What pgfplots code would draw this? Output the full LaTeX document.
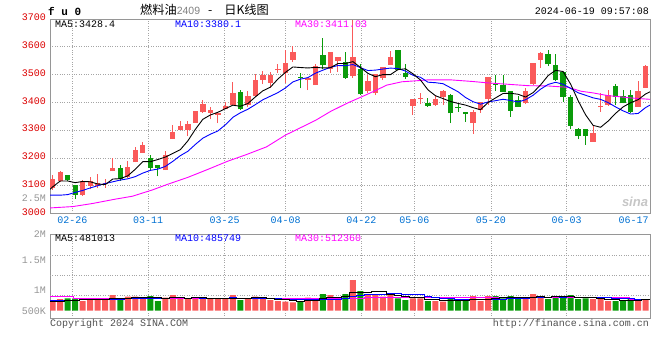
\documentclass[border=0pt]{standalone}
\usepackage{fontspec}
\usepackage{pgfplots}
\usepackage{pgfplotstable}
\pgfplotsset{compat=1.18}
\setmainfont{Liberation Mono}
\newfontfamily\cjk{Noto Sans CJK SC}
\newfontfamily\lsans{Liberation Sans}
\newcommand\mono{\fontsize{10}{12}\selectfont}
\definecolor{cred}{RGB}{250,90,90}
\definecolor{cgreen}{RGB}{10,155,10}
\definecolor{labred}{RGB}{220,0,0}
\definecolor{labblue}{RGB}{0,112,210}
\definecolor{gridgray}{RGB}{165,165,165}
\definecolor{framegray}{RGB}{150,150,150}
\definecolor{labgray}{RGB}{150,150,150}
\definecolor{txtgray}{RGB}{80,80,80}
\definecolor{mablue}{RGB}{0,0,255}
\definecolor{mamag}{RGB}{255,0,255}

% i open high low close volume(K)
\pgfplotstableread{
i o h l c v
0 3093 3137 3085 3123 471
1 3117 3152 3115 3151 515
4 3066 3122 3064 3116 427
5 3100 3131 3087 3117 471
6 3098 3141 3090 3111 541
7 3105 3123 3093 3111 471
8 3152 3198 3152 3165 691
10 3132 3188 3128 3168 616
11 3184 3241 3184 3229 616
12 3218 3256 3218 3248 515
15 3156 3224 3156 3212 572
16 3268 3319 3268 3295 691
17 3301 3333 3301 3315 515
18 3299 3333 3280 3322 515
19 3327 3369 3327 3369 572
20 3366 3408 3363 3394 515
21 3363 3384 3339 3373 515
22 3355 3363 3325 3363 515
23 3376 3402 3376 3387 515
24 3390 3474 3390 3432 691
26 3389 3440 3382 3422 515
27 3422 3503 3420 3482 616
28 3480 3513 3466 3497 515
29 3470 3509 3453 3497 471
30 3515 3539 3506 3521 427
31 3506 3590 3471 3542 396
32 3553 3604 3545 3580 365
34 3480 3489 3444 3489 572
35 3462 3537 3462 3531 515
37 3521 3583 3507 3583 691
38 3549 3563 3509 3563 471
40 3494 3695 3488 3565 1351
42 3440 3500 3432 3476 691
43 3432 3503 3426 3503 691
44 3486 3527 3480 3527 616
45 3536 3584 3536 3565 735
48 3388 3412 3355 3412 541
49 3412 3432 3393 3416 541
51 3390 3426 3388 3412 427
52 3420 3444 3390 3440 396
56 3325 3372 3287 3366 647
57 3373 3402 3363 3402 427
58 3411 3492 3390 3492 647
63 3396 3450 3394 3442 515
64 3465 3541 3462 3541 735
65 3553 3583 3525 3577 647
72 3259 3319 3259 3291 515
73 3382 3432 3366 3386 515
74 3390 3444 3387 3426 427
78 3384 3476 3384 3440 471
79 3453 3533 3453 3530 471
}\redtab

\pgfplotstableread{
i o h l c v
2 3137 3140 3118 3121 541
3 3101 3103 3053 3066 515
9 3162 3176 3117 3123 471
13 3200 3212 3158 3164 647
14 3174 3176 3134 3162 427
25 3438 3444 3372 3375 471
33 3491 3506 3450 3487 427
36 3569 3631 3521 3533 735
39 3545 3583 3485 3489 735
41 3521 3539 3426 3429 867
46 3587 3587 3515 3518 541
47 3506 3539 3485 3491 471
50 3398 3414 3384 3388 427
53 3428 3430 3325 3360 572
54 3384 3396 3366 3381 427
55 3364 3364 3331 3358 427
59 3465 3500 3440 3462 647
60 3462 3500 3438 3438 541
61 3442 3442 3349 3370 647
62 3408 3423 3384 3384 515
66 3575 3589 3530 3537 515
67 3533 3575 3477 3480 647
68 3509 3509 3402 3420 616
69 3418 3426 3303 3315 691
70 3303 3307 3268 3280 515
71 3303 3303 3247 3280 541
75 3458 3465 3390 3420 427
76 3422 3444 3396 3396 427
77 3426 3444 3363 3366 541
}\greentab

\pgfplotstableread{
x y
-0.36 3087
0 3096
1 3117
2 3117
3 3111
4 3115.4
5 3114.2
6 3106.2
7 3104.2
8 3124
9 3125.4
10 3135.6
11 3159.2
12 3186.6
13 3186.4
14 3194.2
15 3203
16 3216.2
17 3229.6
18 3261.2
19 3302.6
20 3339
21 3354.6
22 3364.2
23 3377.2
24 3389.8
25 3386
26 3395.8
27 3419.6
28 3441.6
29 3454.6
30 3483.8
31 3507.8
32 3527.4
33 3525.4
34 3523.8
35 3525.8
36 3524
37 3524.6
38 3539.8
39 3539.8
40 3546.6
41 3525.8
42 3504.4
43 3492.4
44 3500
45 3500
46 3517.8
47 3520.8
48 3502.6
49 3480.4
50 3445
51 3423.8
52 3413.6
53 3403.2
54 3396.2
55 3390.2
56 3381
57 3373.4
58 3399.8
59 3416
60 3432
61 3432.8
62 3429.2
63 3419.2
64 3435
65 3462.8
66 3496.2
67 3515.4
68 3511
69 3465.8
70 3406.4
71 3355
72 3317.2
73 3310.4
74 3332.6
75 3360.6
76 3383.8
77 3398.8
78 3409.6
79 3430.4
79.58 3438
}\mafive

\pgfplotstableread{
x y
-0.36 3066
0 3066
1 3066
2 3068
3 3076
4 3083
5 3092
6 3100
7 3108
8 3114
9 3120.4
10 3124.9
11 3132.7
12 3145.4
13 3155.2
14 3159.8
15 3169.3
16 3187.7
17 3208.1
18 3223.8
19 3248.4
20 3271
21 3285.4
22 3296.9
23 3319.2
24 3346.2
25 3362.5
26 3375.2
27 3391.9
28 3409.4
29 3422.2
30 3434.9
31 3451.8
32 3473.5
33 3483.5
34 3489.2
35 3504.8
36 3515.9
37 3526
38 3532.6
39 3531.8
40 3536.2
41 3524.9
42 3514.5
43 3516.1
44 3519.9
45 3523.3
46 3521.8
47 3512.6
48 3497.5
49 3490.2
50 3472.5
51 3470.8
52 3467.2
53 3452.9
54 3438.3
55 3417.6
56 3402.4
57 3393.5
58 3401.5
59 3406.1
60 3411.1
61 3406.9
62 3401.3
63 3409.5
64 3425.5
65 3447.4
66 3464.5
67 3472.3
68 3465.1
69 3450.4
70 3434.6
71 3425.6
72 3416.3
73 3410.7
74 3399.2
75 3383.5
76 3369.4
77 3358
78 3360
79 3381.5
79.58 3390
}\maten

\pgfplotstableread{
x y
-0.36 3020
2.7 3025
5.3 3036
8.4 3052
10.6 3062
13.3 3085
15.3 3105
18 3130
20.6 3158
23.3 3188
25.9 3213
28.5 3240
31 3282
35 3335
37 3367
39.3 3398
41 3418
42.8 3440
44.5 3462
46.5 3474
48.6 3478
50 3481
53 3481
56 3475
58 3470
60.7 3465
63.4 3460
66 3459
68.7 3454
70.4 3440
72 3434
74 3424
75.3 3421
76.6 3417
77.9 3414
79.58 3411
}\mathirty

\pgfplotstableread{
x y
-0.36 400
0 400
1 420
2 450
3 470
4 494
5 494
6 499
7 485
8 520
9 529
10 558
11 573
12 582
13 573
14 564
15 555
16 570
17 570
18 544
19 573
20 562
21 526
22 526
23 526
24 550
25 541
26 541
27 562
28 562
29 518
30 509
31 485
32 435
33 417
34 437
35 455
36 523
37 588
38 597
39 629
40 797
41 823
42 823
43 867
44 843
45 720
46 655
47 611
48 581
49 566
50 504
51 481
52 466
53 473
54 450
55 450
56 494
57 500
58 515
59 559
60 582
61 582
62 599
63 573
64 591
65 612
66 585
67 612
68 632
69 623
70 597
71 602
72 576
73 555
74 503
75 485
76 462
77 467
78 459
79 481
79.58 481
}\vmafive

\pgfplotstableread{
x y
-0.36 440
0 440
1 450
2 460
3 470
4 480
5 490
6 495
7 500
8 505
9 511
10 526
11 536
12 533
13 547
14 547
15 557
16 572
17 576
18 559
19 569
20 559
21 548
22 548
23 535
24 562
25 552
26 534
27 544
28 544
29 534
30 525
31 513
32 498
33 489
34 478
35 482
36 504
37 511
38 507
39 533
40 626
41 673
42 706
43 732
44 736
45 758
46 739
47 717
48 724
49 705
50 612
51 568
52 539
53 527
54 508
55 477
56 488
57 483
58 494
59 504
60 516
61 538
62 550
63 544
64 575
65 597
66 584
67 606
68 603
69 607
70 604
71 594
72 594
73 594
74 563
75 541
76 532
77 522
78 507
79 486
79.58 486
}\vmaten

\pgfplotstableread{
x y
-0.36 620
2.5 620
3 560
8 550
15 548
20 545
29 538
34 530
39 545
44 575
49 591
54 585
59 581
64 590
69 600
74 565
79.58 515
}\vmathirty

\pgfplotsset{
  kstyle/.style={
    scale only axis, width=600pt,
    xmin=-0.36, xmax=79.58,
    axis line style={draw=framegray, line width=0.8pt},
    major tick length=0pt, tick style={draw=none},
    grid style={draw=gridgray, line width=0.8pt, dash pattern=on 0.8pt off 1.6pt},
    ticklabel style={font=\mono, inner sep=0pt},
    xtick={2.61,12.70,22.89,31.04,41.14,48.17,58.39,68.48},
    xmajorgrids=true,
  },
  wick/.style={draw=none, mark=none, forget plot,
    error bars/.cd, y dir=plus, y explicit, error mark=none,
    error bar style={draw=#1, solid, line width=1pt}},
  body/.style={draw=none, mark=none, forget plot,
    error bars/.cd, y dir=plus, y explicit, error mark=none,
    error bar style={draw=#1, solid, line width=5.4pt}},
}

\begin{document}
\begin{tikzpicture}
\path[use as bounding box] (0pt,0pt) rectangle (660pt,360pt);

% ---------- price panel ----------
\begin{axis}[kstyle,
  at={(50pt,146.5pt)}, anchor=south west, height=194.5pt,
  ymin=3000, ymax=3700,
  ytick={3000,3100,3200,3300,3400,3500,3600,3700},
  yticklabels={3000,3100,3200,3300,3400,3500,3600,3700},
  ymajorgrids=true,
  yticklabel style={text=labred, xshift=-4pt, yshift=1.5pt},
  extra y ticks={3048.6},
  extra y tick labels={\textcolor{labgray}{2.5M}},
  extra y tick style={grid=none},
  xticklabels={02-26,03-11,03-25,04-08,04-22,05-06,05-20,06-03},
  xticklabel style={text=labblue, yshift=-3.5pt},
  extra x ticks={77.4},
  extra x tick labels={06-17},
  extra x tick style={grid=none},
]
\addplot[wick=cred] table[x=i, y=l, y error plus expr=\thisrow{h}-\thisrow{l}] {\redtab};
\addplot[body=cred] table[x=i, y=o, y error plus expr=\thisrow{c}-\thisrow{o}] {\redtab};
\addplot[wick=cgreen] table[x=i, y=l, y error plus expr=\thisrow{h}-\thisrow{l}] {\greentab};
\addplot[body=cgreen] table[x=i, y=c, y error plus expr=\thisrow{o}-\thisrow{c}] {\greentab};
\addplot[mamag, line width=0.9pt, mark=none] table[x=x, y=y] {\mathirty};
\addplot[mablue, line width=0.9pt, mark=none] table[x=x, y=y] {\maten};
\addplot[black, line width=0.9pt, mark=none] table[x=x, y=y] {\mafive};
\node[anchor=west, inner sep=0pt, font=\mono, text=black] at (rel axis cs:0.0083,0.974) {MA5:3428.4};
\node[anchor=west, inner sep=0pt, font=\mono, text=mablue] at (rel axis cs:0.2083,0.974) {MA10:3380.1};
\node[anchor=west, inner sep=0pt, font=\mono, text=mamag] at (rel axis cs:0.4083,0.974) {MA30:3411.03};
\end{axis}

% ---------- volume panel ----------
\begin{axis}[kstyle,
  at={(50pt,41.7pt)}, anchor=south west, height=84pt,
  ymin=-334, ymax=3362,
  ytick={0,898,2231,3362},
  yticklabels={500K,1M,1.5M,2M},
  yticklabel style={text=labgray, xshift=-4pt},
  ymajorgrids=false,
  extra y ticks={660,1540,2420},
  extra y tick labels={,,},
  extra y tick style={grid=major},
  xticklabels={},
]
\addplot[ybar, bar width=6pt, bar shift=0pt, fill=cred, draw=none, forget plot] table[x=i, y=v] {\redtab};
\addplot[ybar, bar width=6pt, bar shift=0pt, fill=cgreen, draw=none, forget plot] table[x=i, y=v] {\greentab};
\addplot[mamag, line width=0.9pt, mark=none, const plot mark mid] table[x=x, y=y] {\vmathirty};
\addplot[mablue, line width=0.9pt, mark=none, const plot mark mid] table[x=x, y=y] {\vmaten};
\addplot[black, line width=0.9pt, mark=none, const plot mark mid] table[x=x, y=y] {\vmafive};
\node[anchor=west, inner sep=0pt, font=\mono, text=black] at (rel axis cs:0.0083,0.948) {MA5:481013};
\node[anchor=west, inner sep=0pt, font=\mono, text=mablue] at (rel axis cs:0.2083,0.948) {MA10:485749};
\node[anchor=west, inner sep=0pt, font=\mono, text=mamag] at (rel axis cs:0.4083,0.948) {MA30:512360};
\end{axis}

% ---------- texts ----------
\node[anchor=west, inner sep=0pt, font=\fontsize{11}{12}\selectfont\bfseries] at (48pt,348.7pt) {f u 0};
\node[anchor=west, inner sep=0pt] at (140pt,350pt) {\cjk\fontsize{12.2}{14}\selectfont 燃料油{\lsans\fontsize{10.5}{12}\selectfont\textcolor{gray}{2409}}\hspace{8pt}-\hspace{12pt}日K线图};
\node[anchor=east, inner sep=0pt, font=\mono] at (649pt,348.3pt) {2024-06-19 09:57:08};
\node[anchor=west, inner sep=0pt, font=\mono, text=txtgray] at (50pt,36.2pt) {Copyright 2024 SINA.COM};
\node[anchor=east, inner sep=0pt, font=\mono, text=txtgray] at (649pt,36.2pt) {http://finance.sina.com.cn};
\node[inner sep=0pt, text=gray!45, font=\lsans\fontsize{13}{14}\selectfont\bfseries\itshape] at (635pt,158pt) {sina};
\end{tikzpicture}
\end{document}
